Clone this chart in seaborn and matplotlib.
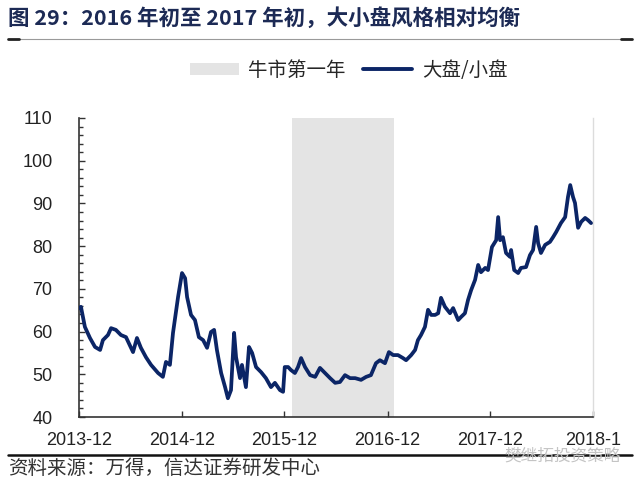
import matplotlib
matplotlib.use("Agg")
import matplotlib.pyplot as plt
import seaborn as sns
import pandas as pd
from matplotlib.lines import Line2D
from matplotlib.patches import Patch
from matplotlib.ticker import MultipleLocator

# ---- data ----
dates = [
    "2013-12-01", "2013-12-08", "2013-12-22", "2014-01-09", "2014-01-27", "2014-02-14",
    "2014-02-24", "2014-03-14", "2014-03-25", "2014-04-11", "2014-04-29", "2014-05-17",
    "2014-06-11", "2014-06-25", "2014-07-09", "2014-07-27", "2014-08-14", "2014-09-08",
    "2014-09-25", "2014-10-06", "2014-10-20", "2014-10-31", "2014-11-18", "2014-11-28",
    "2014-12-02", "2014-12-13", "2014-12-20", "2015-01-03", "2015-01-17", "2015-01-31",
    "2015-02-15", "2015-03-01", "2015-03-15", "2015-03-26", "2015-04-05", "2015-04-20",
    "2015-05-04", "2015-05-14", "2015-05-25", "2015-06-05", "2015-06-12", "2015-06-26",
    "2015-07-03", "2015-07-17", "2015-07-28", "2015-08-08", "2015-08-22", "2015-09-09",
    "2015-09-26", "2015-10-14", "2015-10-28", "2015-11-15", "2015-11-26", "2015-12-02",
    "2015-12-14", "2015-12-24", "2016-01-07", "2016-01-18", "2016-01-29", "2016-02-12",
    "2016-03-01", "2016-03-19", "2016-04-05", "2016-04-23", "2016-05-11", "2016-05-29",
    "2016-06-15", "2016-07-03", "2016-07-21", "2016-08-08", "2016-08-29", "2016-09-16",
    "2016-10-03", "2016-10-21", "2016-11-04", "2016-11-22", "2016-12-06", "2016-12-21",
    "2017-01-07", "2017-01-25", "2017-02-05", "2017-02-23", "2017-03-09", "2017-03-19",
    "2017-03-30", "2017-04-13", "2017-04-24", "2017-05-05", "2017-05-19", "2017-05-30",
    "2017-06-09", "2017-06-23", "2017-07-11", "2017-07-22", "2017-08-09", "2017-08-19",
    "2017-09-02", "2017-09-13", "2017-09-24", "2017-10-08", "2017-10-19", "2017-10-29",
    "2017-11-13", "2017-11-23", "2017-12-07", "2017-12-22", "2017-12-29", "2018-01-05",
    "2018-01-15", "2018-01-26", "2018-02-09", "2018-02-13", "2018-02-24", "2018-03-10",
    "2018-03-20", "2018-04-07", "2018-04-21", "2018-05-02", "2018-05-13", "2018-05-20",
    "2018-05-30", "2018-06-14", "2018-07-01", "2018-07-12", "2018-07-23", "2018-08-09",
    "2018-08-24", "2018-09-03", "2018-09-11", "2018-09-21", "2018-09-28", "2018-10-09",
    "2018-10-20", "2018-11-03", "2018-11-13", "2018-11-24",
]
large_small = [
    65.5, 65.8, 61.1, 58.5, 56.4, 55.7,
    58.0, 59.2, 60.8, 60.4, 59.2, 58.7,
    55.2, 58.5, 56.2, 54.0, 52.2, 50.3,
    49.4, 52.9, 52.2, 59.7, 68.1, 72.1,
    73.7, 72.5, 68.1, 63.9, 62.7, 58.7,
    58.0, 56.2, 59.9, 60.4, 55.7, 50.3,
    47.0, 44.4, 46.3, 59.7, 54.0, 49.1,
    52.2, 47.0, 56.4, 55.0, 51.7, 50.5,
    49.1, 47.0, 48.0, 46.3, 45.9, 51.7,
    51.7, 51.0, 50.3, 51.7, 53.8, 51.7,
    49.8, 49.4, 51.5, 50.3, 49.1, 48.0,
    48.2, 49.8, 49.1, 49.1, 48.7, 49.4,
    49.8, 52.6, 53.3, 52.6, 55.2, 54.5,
    54.5, 53.8, 53.3, 54.5, 55.7, 58.0,
    59.2, 61.1, 65.1, 63.9, 63.9, 64.3,
    67.9, 65.8, 64.3, 65.5, 62.7, 63.4,
    64.3, 67.4, 69.7, 72.1, 75.6, 73.9,
    74.9, 74.4, 79.8, 81.4, 86.8, 81.4,
    82.1, 78.4, 77.5, 79.1, 74.4, 73.7,
    74.9, 75.1, 77.9, 79.1, 84.5, 80.7,
    78.4, 80.3, 81.0, 82.1, 83.3, 85.4,
    86.8, 91.5, 94.3, 91.5, 90.1, 84.3,
    85.7, 86.6, 86.1, 85.4,
]
shade_start = "2015-12-29"
shade_end = "2016-12-25"
tick_dates = ["2013-12-01", "2014-12-01", "2015-12-01", "2016-12-01", "2017-12-01", "2018-12-01"]
tick_labels = ["2013-12", "2014-12", "2015-12", "2016-12", "2017-12", "2018-1"]
y_ticks = [40, 50, 60, 70, 80, 90, 100, 110]

title = "图 29：2016 年初至 2017 年初，大小盘风格相对均衡"
source = "资料来源：万得，信达证券研发中心"
legend_labels = ["牛市第一年", "大盘/小盘"]
watermark = "樊继拓投资策略"

# ---- style ----
sns.set_theme(style="white")
plt.rcParams["font.family"] = ["Liberation Sans", "Noto Sans CJK SC", "DejaVu Sans"]
cjk = ["Noto Sans CJK SC", "DejaVu Sans"]

navy = "#0b2566"
shade_col = "#e4e4e4"

df = pd.DataFrame({"date": pd.to_datetime(dates), "value": large_small})

fig = plt.figure(figsize=(6.4, 4.83), dpi=100)
ax = fig.add_axes([0.1234, 0.1366, 0.8032, 0.6191])

ax.axvspan(pd.Timestamp(shade_start), pd.Timestamp(shade_end), color=shade_col, lw=0, zorder=0)
sns.lineplot(data=df, x="date", y="value", ax=ax, color=navy, linewidth=2.7, zorder=3)

ax.set_xlim(pd.Timestamp(tick_dates[0]), pd.Timestamp(tick_dates[-1]))
ax.set_ylim(40, 110)
ax.set_xticks(pd.to_datetime(tick_dates))
ax.set_xticklabels(tick_labels, fontsize=13, color="#222222")
ax.set_yticks(y_ticks)
ax.set_yticklabels([str(v) for v in y_ticks], fontsize=13, color="#222222")
ax.yaxis.set_minor_locator(MultipleLocator(2))
ax.tick_params(axis="both", which="both", direction="in", color="#333333", width=1, left=True, bottom=True)
ax.tick_params(axis="y", which="major", length=4, pad=19)
ax.tick_params(axis="y", which="minor", length=3)
ax.tick_params(axis="x", which="major", length=4, pad=11)
ax.set_xlabel("")
ax.set_ylabel("")
for s in ["left", "bottom"]:
    ax.spines[s].set_color("#333333")
    ax.spines[s].set_linewidth(1.2)
ax.spines["top"].set_visible(False)
ax.spines["right"].set_color("#dcdcdc")
ax.spines["right"].set_linewidth(1)

# legend
handles = [Patch(facecolor=shade_col, edgecolor="none"),
           Line2D([0], [0], color=navy, lw=2.8)]
fig.legend(handles, legend_labels, loc="center", bbox_to_anchor=(0.545, 0.855), ncol=2,
           frameon=False, handlelength=2.5, handleheight=0.55, columnspacing=0.9, handletextpad=0.5,
           prop={"family": cjk, "size": 14})

# title and rules
fig.text(0.0125, 0.962, title, fontsize=15.5, fontweight="bold", color="#1c2a55", family=cjk,
         va="center", ha="left")
fig.add_artist(Line2D([0.0125, 0.9875], [0.919, 0.919], color="#9a9a9a", lw=0.8))
fig.add_artist(Line2D([0.0125, 0.03], [0.919, 0.919], color="#222222", lw=2))
fig.add_artist(Line2D([0.97, 0.9875], [0.919, 0.919], color="#222222", lw=2))
fig.add_artist(Line2D([0.0125, 0.9875], [0.058, 0.058], color="#111111", lw=1.8))
fig.text(0.0125, 0.031, source, fontsize=14, color="#333333", family=cjk, va="center", ha="left",
         style="italic")
fig.text(0.97, 0.055, watermark, fontsize=12, color="#c4c4c4", family=cjk, va="center", ha="right")

fig.savefig("out.png", dpi=100)
